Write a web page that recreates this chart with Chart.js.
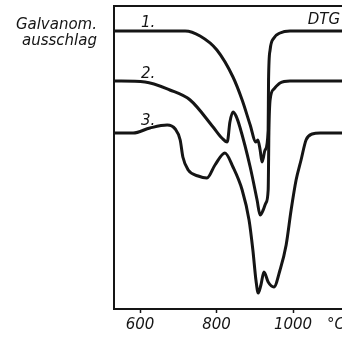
<!DOCTYPE html>
<html>
<head>
<meta charset="utf-8">
<script src="https://cdn.jsdelivr.net/npm/chart.js@4"></script>
<style>
  html, body { margin: 0; padding: 0; background: #fff; }
</style>
</head>
<body>
<canvas id="dtg" width="342" height="337"></canvas>
<script>
// temperature (°C) and galvanometer deflection (arbitrary units)
const curve1T = [532, 718, 757, 801, 843, 867, 888, 903, 908, 914, 919, 927, 935, 936, 940, 950, 966, 992, 1128];
const curve1Y = [278, 278, 273, 259, 232, 209, 184, 167, 169, 159, 147, 159, 179, 229, 259, 271, 276, 278, 278];

const curve2T = [532, 613, 678, 731, 791, 814, 828, 835, 843, 851, 861, 888, 906, 914, 922, 929, 935, 937, 940, 950, 966, 992, 1128];
const curve2Y = [228, 227, 219, 209, 182, 171, 167, 187, 197, 193, 182, 142, 109, 94, 99, 106, 119, 179, 209, 220, 226, 228, 228];

const curve3T = [532, 582, 626, 671, 692, 705, 712, 726, 752, 775, 796, 822, 843, 867, 885, 895, 903, 909, 916, 924, 935, 950, 966, 982, 995, 1008, 1021, 1034, 1050, 1071, 1128];
const curve3Y = [176, 176, 181, 184, 180, 169, 152, 139, 133, 131, 144, 156, 142, 119, 89, 59, 29, 16, 24, 37, 27, 22, 39, 64, 99, 129, 149, 169, 175, 176, 176];

const tickValues = [600, 800, 1000];
const unitLabel = '°C';
const unitAt = 1112;

const curveNames = ['1.', '2.', '3.'];
const curveNameT = [613, 613, 613];
const curveNameY = [287, 236, 189];

const ink = '#151515';
const labelFont = 'italic 15px "DejaVu Sans", sans-serif';

function pts(t, y) { return t.map((v, i) => ({ x: v, y: y[i] })); }

const textPlugin = {
  id: 'texts',
  afterDraw(chart) {
    const c = chart.ctx, xs = chart.scales.x, ys = chart.scales.y;
    c.save();
    c.fillStyle = ink;
    c.font = labelFont;
    c.textBaseline = 'alphabetic';
    c.textAlign = 'left';
    curveNames.forEach((n, i) => {
      c.fillText(n, xs.getPixelForValue(curveNameT[i]) - 4, ys.getPixelForValue(curveNameY[i]) + 5);
    });
    c.textAlign = 'center';
    c.textBaseline = 'middle';
    c.fillText(unitLabel, xs.getPixelForValue(unitAt), 325);
    c.textBaseline = 'alphabetic';
    c.textAlign = 'right';
    c.fillText('DTG', 340, 24);
    c.fillText('Galvanom.', 97, 29);
    c.fillText('ausschlag', 97, 45);
    c.restore();
  }
};

const line = (t, y) => ({
  data: pts(t, y),
  borderColor: ink,
  borderWidth: 3,
  pointRadius: 0,
  fill: false,
  cubicInterpolationMode: 'monotone'
});

new Chart(document.getElementById('dtg'), {
  type: 'line',
  data: { datasets: [line(curve1T, curve1Y), line(curve2T, curve2Y), line(curve3T, curve3Y)] },
  options: {
    responsive: false,
    animation: false,
    devicePixelRatio: 1,
    layout: { padding: { left: 114, top: 6, right: 0, bottom: 0 } },
    plugins: { legend: { display: false }, tooltip: { enabled: false } },
    scales: {
      x: {
        type: 'linear', position: 'bottom', min: 532, max: 1128,
        afterBuildTicks: s => { s.ticks = tickValues.map(v => ({ value: v })); },
        grid: { drawOnChartArea: false, drawTicks: true, tickLength: 4, tickWidth: 1.5, tickColor: ink },
        border: { display: true, color: ink, width: 2 },
        ticks: {
          color: ink, padding: 3, maxRotation: 0, autoSkip: false,
          font: { family: '"DejaVu Sans", sans-serif', size: 15, style: 'italic' },
          callback: v => String(v)
        }
      },
      x2: {
        type: 'linear', position: 'top', min: 532, max: 1128,
        grid: { display: false, drawTicks: false },
        ticks: { display: false },
        border: { display: true, color: ink, width: 2 }
      },
      y: {
        min: 0, max: 303,
        grid: { display: false, drawTicks: false },
        ticks: { display: false },
        border: { display: true, color: ink, width: 2 }
      }
    }
  },
  plugins: [textPlugin]
});
</script>
</body>
</html>
